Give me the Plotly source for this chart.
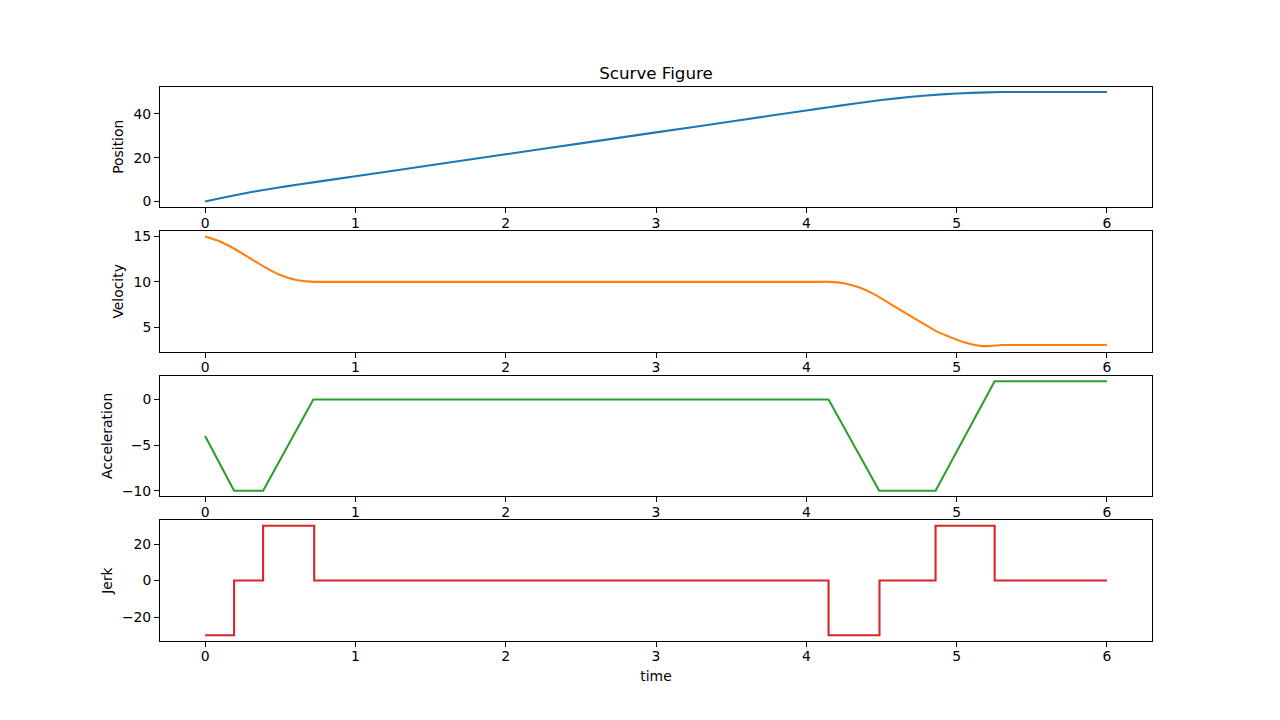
import plotly.graph_objects as go
from plotly.subplots import make_subplots

# ---- data ----
pos_t = [0, 0.1, 0.2, 0.3, 0.4, 0.5, 0.6, 0.73, 1.0, 1.5, 2.0, 2.5, 3.0, 3.5, 4.0, 4.15, 4.3, 4.5, 4.7, 4.9, 5.1, 5.3, 5.6, 6.0]
pos_v = [0, 1.47, 2.88, 4.2, 5.4, 6.5, 7.55, 8.85, 11.55, 16.55, 21.55, 26.55, 31.55, 36.55, 41.55, 43.05, 44.5, 46.3, 47.8, 48.9, 49.6, 50.0, 50.0, 50.0]

vel_t = [0, 0.1, 0.2, 0.3, 0.4, 0.5, 0.6, 0.7, 0.73, 0.8, 1.5, 2.5, 3.5, 4.1, 4.15, 4.25, 4.35, 4.45, 4.55, 4.65, 4.75, 4.87, 4.95, 5.0, 5.05, 5.1, 5.17, 5.27, 5.3, 5.5, 6.0]
vel_v = [15, 14.45, 13.6, 12.6, 11.6, 10.75, 10.23, 10.02, 10.0, 10.0, 10.0, 10.0, 10.0, 10.0, 10.0, 9.85, 9.4, 8.65, 7.66, 6.66, 5.66, 4.5, 3.95, 3.62, 3.32, 3.1, 2.9, 2.97, 3.02, 3.02, 3.02]

acc_t = [0, 0.193, 0.386, 0.72, 4.148, 4.485, 4.86, 5.253, 6.0]
acc_v = [-4, -10, -10, 0, 0, -10, -10, 2, 2]

jerk_t = [0, 0.193, 0.386, 0.726, 4.148, 4.487, 4.86, 5.253, 6.0]
jerk_v = [-30, 0, 30, 0, -30, 0, 30, 0, 0]

x_ticks = [0, 1, 2, 3, 4, 5, 6]
y_ticks = {
    "Position": [0, 20, 40],
    "Velocity": [5, 10, 15],
    "Acceleration": [-10, -5, 0],
    "Jerk": [-20, 0, 20],
}

title = "Scurve Figure"
x_label = "time"

# ---- figure ----
series = [
    ("Position", pos_t, pos_v, "#1f77b4", "spline"),
    ("Velocity", vel_t, vel_v, "#ff7f0e", "spline"),
    ("Acceleration", acc_t, acc_v, "#2ca02c", "linear"),
    ("Jerk", jerk_t, jerk_v, "#d62728", "hv"),
]

fig = make_subplots(rows=4, cols=1)

W, H = 1280, 720
h = 0.16736
gap = 0.033472
bottoms = [0.11 + 3 * (h + gap), 0.11 + 2 * (h + gap), 0.11 + (h + gap), 0.11]

FONT = "DejaVu Sans"
axis_common = dict(
    showline=True, mirror=True, linecolor="black", linewidth=1,
    ticks="outside", ticklen=5, tickwidth=1, tickcolor="black",
    showgrid=False, zeroline=False, automargin=False,
    tickfont=dict(family=FONT, size=13.9, color="black"),
)

def minus(v):
    s = str(v)
    return s.replace("-", "\u2212")

xmin, xmax = min(pos_t), max(pos_t)
xpad = (xmax - xmin) * 0.05

for i, (name, t, v, color, shape) in enumerate(series):
    r = i + 1
    line = dict(color=color, width=2.1)
    if shape == "spline":
        line["shape"] = "spline"
        line["smoothing"] = 0.5
    elif shape == "hv":
        line["shape"] = "hv"
    fig.add_trace(go.Scatter(x=t, y=v, mode="lines", line=line, showlegend=False,
                             hoverinfo="skip"), row=r, col=1)
    lo, hi = min(v), max(v)
    pad = (hi - lo) * 0.05
    yt = y_ticks[name]
    fig.update_yaxes(domain=[bottoms[i], bottoms[i] + h], range=[lo - pad, hi + pad],
                     tickvals=yt, ticktext=[minus(x) for x in yt],
                     title=dict(text=name, font=dict(family=FONT, size=13.9, color="black"), standoff=6),
                     row=r, col=1, **axis_common)
    fig.update_xaxes(domain=[0.125, 0.9], range=[xmin - xpad, xmax + xpad],
                     tickvals=x_ticks, ticktext=[str(x) for x in x_ticks],
                     ticklabelstandoff=-2,
                     row=r, col=1, **axis_common)

fig.update_xaxes(title=dict(text=x_label, font=dict(family=FONT, size=13.9, color="black"), standoff=7),
                 row=4, col=1)

fig.update_layout(
    width=W, height=H,
    margin=dict(l=0, r=0, t=0, b=0),
    paper_bgcolor="white", plot_bgcolor="white",
    font=dict(family=FONT, color="black"),
    title=dict(text=title, x=0.5125, xanchor="center", y=1 - 73 / 720, yanchor="middle",
               font=dict(family=FONT, size=16.7, color="black")),
)

fig.write_html("out.html", config={"displayModeBar": False},
               post_script="document.body.style.margin='0';document.body.style.padding='0';")
